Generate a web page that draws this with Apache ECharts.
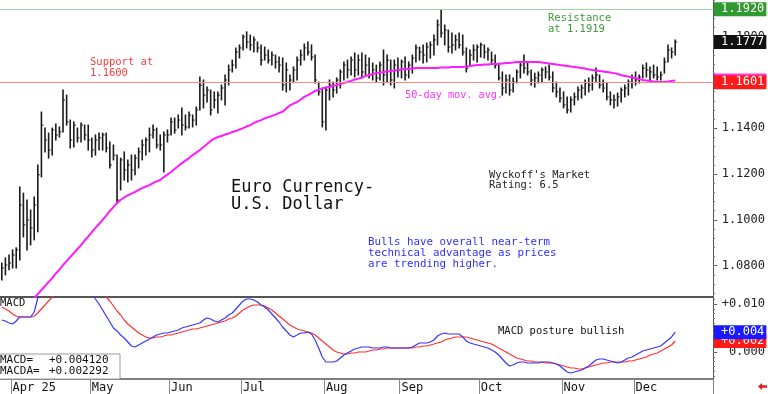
<!DOCTYPE html>
<html><head><meta charset="utf-8">
<script src="https://cdn.jsdelivr.net/npm/echarts@6/dist/echarts.min.js"></script>
<style>html,body{margin:0;padding:0;background:#fff}#c{width:768px;height:394px}</style>
</head><body><div id="c"></div>
<script>
// ---- Daily bars (Euro FX) ----
const high = [
1.0812,1.0834,1.0847,1.0869,1.0878,1.1144,1.1117,1.1087,1.1043,1.1100,
1.1240,1.1471,1.1401,1.1379,1.1401,1.1419,1.1406,1.1567,1.1545,1.1436,
1.1428,1.1401,1.1423,1.1414,1.1414,1.1358,1.1371,1.1379,1.1379,1.1379,
1.1340,1.1327,1.1283,1.1270,1.1297,1.1262,1.1283,1.1283,1.1314,1.1349,
1.1358,1.1401,1.1414,1.1401,1.1371,1.1384,1.1393,1.1445,1.1445,1.1458,
1.1489,1.1458,1.1471,1.1458,1.1493,1.1624,1.1611,1.1580,1.1567,1.1559,
1.1559,1.1589,1.1633,1.1676,1.1698,1.1751,1.1764,1.1807,1.1821,1.1807,
1.1799,1.1777,1.1764,1.1755,1.1742,1.1733,1.1720,1.1711,1.1707,1.1685,
1.1633,1.1668,1.1711,1.1742,1.1768,1.1777,1.1764,1.1720,1.1602,1.1576,
1.1580,1.1611,1.1602,1.1620,1.1655,1.1690,1.1698,1.1711,1.1729,1.1720,
1.1729,1.1720,1.1707,1.1685,1.1676,1.1690,1.1742,1.1720,1.1698,1.1698,
1.1707,1.1698,1.1711,1.1690,1.1720,1.1764,1.1755,1.1764,1.1772,1.1777,
1.1807,1.1873,1.1917,1.1851,1.1829,1.1816,1.1807,1.1816,1.1807,1.1751,
1.1742,1.1764,1.1764,1.1772,1.1764,1.1751,1.1733,1.1720,1.1685,1.1646,
1.1633,1.1633,1.1620,1.1655,1.1690,1.1720,1.1690,1.1655,1.1641,1.1646,
1.1663,1.1668,1.1676,1.1646,1.1602,1.1576,1.1559,1.1537,1.1537,1.1554,
1.1580,1.1589,1.1611,1.1620,1.1633,1.1663,1.1633,1.1611,1.1598,1.1559,
1.1545,1.1554,1.1576,1.1589,1.1611,1.1633,1.1646,1.1633,1.1676,1.1685,
1.1668,1.1676,1.1668,1.1646,1.1707,1.1764,1.1751,1.1786];
const low = [
1.0738,1.0760,1.0782,1.0790,1.0790,1.0825,1.0926,1.0869,1.0891,1.0913,
1.0948,1.1188,1.1297,1.1270,1.1283,1.1349,1.1362,1.1384,1.1414,1.1314,
1.1318,1.1340,1.1340,1.1349,1.1305,1.1275,1.1283,1.1305,1.1305,1.1297,
1.1227,1.1262,1.1074,1.1131,1.1174,1.1166,1.1174,1.1197,1.1227,1.1262,
1.1283,1.1297,1.1358,1.1314,1.1305,1.1209,1.1340,1.1371,1.1379,1.1401,
1.1371,1.1393,1.1401,1.1406,1.1414,1.1480,1.1489,1.1515,1.1458,1.1489,
1.1467,1.1524,1.1502,1.1589,1.1646,1.1663,1.1707,1.1742,1.1751,1.1742,
1.1733,1.1733,1.1676,1.1698,1.1685,1.1676,1.1663,1.1646,1.1567,1.1559,
1.1567,1.1602,1.1611,1.1676,1.1698,1.1720,1.1698,1.1598,1.1545,1.1406,
1.1393,1.1524,1.1537,1.1554,1.1576,1.1611,1.1620,1.1633,1.1624,1.1633,
1.1620,1.1633,1.1620,1.1611,1.1602,1.1611,1.1589,1.1602,1.1589,1.1576,
1.1624,1.1620,1.1611,1.1620,1.1641,1.1690,1.1698,1.1685,1.1690,1.1707,
1.1720,1.1764,1.1799,1.1764,1.1733,1.1729,1.1742,1.1751,1.1720,1.1646,
1.1676,1.1698,1.1690,1.1711,1.1707,1.1698,1.1685,1.1663,1.1611,1.1545,
1.1554,1.1545,1.1559,1.1598,1.1620,1.1641,1.1633,1.1589,1.1580,1.1598,
1.1602,1.1620,1.1611,1.1559,1.1537,1.1515,1.1489,1.1467,1.1471,1.1502,
1.1524,1.1532,1.1545,1.1559,1.1567,1.1602,1.1576,1.1559,1.1524,1.1502,
1.1489,1.1497,1.1515,1.1537,1.1545,1.1576,1.1589,1.1598,1.1620,1.1624,
1.1611,1.1620,1.1611,1.1611,1.1641,1.1690,1.1707,1.1720];
const close = [
1.0790,1.0803,1.0812,1.0847,1.0869,1.1065,1.0978,1.1000,1.0965,1.1065,
1.1197,1.1414,1.1349,1.1305,1.1393,1.1371,1.1384,1.1524,1.1428,1.1349,
1.1414,1.1358,1.1414,1.1371,1.1349,1.1305,1.1349,1.1358,1.1371,1.1314,
1.1240,1.1283,1.1087,1.1262,1.1218,1.1240,1.1218,1.1270,1.1297,1.1327,
1.1349,1.1371,1.1393,1.1327,1.1327,1.1371,1.1371,1.1428,1.1393,1.1436,
1.1414,1.1406,1.1458,1.1436,1.1480,1.1589,1.1545,1.1567,1.1480,1.1524,
1.1545,1.1576,1.1611,1.1655,1.1676,1.1733,1.1751,1.1799,1.1777,1.1764,
1.1786,1.1751,1.1698,1.1720,1.1698,1.1720,1.1690,1.1676,1.1589,1.1655,
1.1611,1.1655,1.1698,1.1720,1.1751,1.1733,1.1711,1.1611,1.1559,1.1428,
1.1567,1.1589,1.1567,1.1611,1.1646,1.1676,1.1655,1.1698,1.1655,1.1698,
1.1646,1.1676,1.1633,1.1655,1.1620,1.1676,1.1633,1.1698,1.1611,1.1676,
1.1655,1.1690,1.1633,1.1676,1.1707,1.1751,1.1733,1.1720,1.1755,1.1764,
1.1786,1.1851,1.1816,1.1829,1.1755,1.1764,1.1786,1.1764,1.1733,1.1663,
1.1720,1.1742,1.1755,1.1764,1.1733,1.1742,1.1698,1.1676,1.1620,1.1576,
1.1611,1.1567,1.1602,1.1646,1.1676,1.1663,1.1646,1.1611,1.1620,1.1633,
1.1655,1.1646,1.1624,1.1576,1.1559,1.1532,1.1502,1.1480,1.1524,1.1537,
1.1567,1.1576,1.1598,1.1589,1.1620,1.1633,1.1589,1.1576,1.1537,1.1524,
1.1524,1.1537,1.1567,1.1576,1.1602,1.1620,1.1611,1.1624,1.1663,1.1655,
1.1646,1.1633,1.1624,1.1633,1.1690,1.1742,1.1733,1.1777];
// ---- 50-day moving average ----
const ma50 = [
1.0495,1.0515,1.0532,1.0550,1.0567,1.0585,1.0602,1.0622,1.0641,1.0659,
1.0676,1.0694,1.0711,1.0729,1.0746,1.0766,1.0783,1.0803,1.0820,1.0838,
1.0855,1.0873,1.0890,1.0910,1.0927,1.0947,1.0965,1.0982,1.1000,1.1019,
1.1039,1.1056,1.1074,1.1087,1.1098,1.1107,1.1115,1.1122,1.1131,1.1139,
1.1146,1.1152,1.1161,1.1168,1.1174,1.1187,1.1198,1.1209,1.1222,1.1235,
1.1248,1.1259,1.1270,1.1283,1.1294,1.1305,1.1318,1.1331,1.1345,1.1355,
1.1362,1.1366,1.1373,1.1377,1.1384,1.1388,1.1395,1.1401,1.1408,1.1414,
1.1423,1.1430,1.1436,1.1443,1.1449,1.1454,1.1460,1.1467,1.1473,1.1486,
1.1500,1.1508,1.1515,1.1526,1.1537,1.1545,1.1554,1.1563,1.1569,1.1574,
1.1578,1.1580,1.1585,1.1589,1.1593,1.1598,1.1602,1.1607,1.1613,1.1617,
1.1622,1.1628,1.1633,1.1637,1.1641,1.1644,1.1646,1.1648,1.1650,1.1652,
1.1655,1.1657,1.1659,1.1659,1.1661,1.1663,1.1663,1.1663,1.1663,1.1663,
1.1663,1.1663,1.1666,1.1666,1.1666,1.1668,1.1668,1.1668,1.1668,1.1670,
1.1672,1.1674,1.1676,1.1676,1.1679,1.1679,1.1681,1.1681,1.1681,1.1683,
1.1685,1.1685,1.1687,1.1690,1.1690,1.1690,1.1690,1.1690,1.1690,1.1690,
1.1687,1.1685,1.1683,1.1681,1.1679,1.1676,1.1674,1.1672,1.1670,1.1668,
1.1666,1.1663,1.1661,1.1657,1.1655,1.1652,1.1650,1.1648,1.1646,1.1644,
1.1641,1.1637,1.1633,1.1628,1.1626,1.1622,1.1620,1.1615,1.1611,1.1609,
1.1607,1.1604,1.1602,1.1602,1.1602,1.1604,1.1607,1.1609];
// ---- MACD and its average ----
const macd = [
0.00667,0.00646,0.00604,0.00583,0.00646,0.00729,0.00729,0.00729,0.00729,0.00833,
0.01125,0.0135,0.0150,0.0160,0.0168,0.0172,0.0176,0.0182,0.0180,0.0175,
0.0170,0.0162,0.0152,0.0142,0.0133,0.0122,0.01104,0.01000,0.00875,0.00750,
0.00625,0.00500,0.00438,0.00354,0.00292,0.00208,0.00125,0.00104,0.00146,0.00188,
0.00229,0.00271,0.00313,0.00354,0.00375,0.00396,0.00396,0.00417,0.00438,0.00458,
0.00500,0.00521,0.00542,0.00563,0.00583,0.00604,0.00667,0.00708,0.00688,0.00646,
0.00625,0.00667,0.00708,0.00771,0.00813,0.00896,0.00979,0.01063,0.01104,0.01104,
0.01083,0.01042,0.00979,0.00938,0.00875,0.00792,0.00708,0.00625,0.00521,0.00438,
0.00354,0.00313,0.00354,0.00396,0.00396,0.00417,0.00375,0.00250,0.00083,-0.00104,
-0.00208,-0.00208,-0.00208,-0.00188,-0.00125,-0.00063,-0.00021,0.00021,0.00063,0.00083,
0.00104,0.00104,0.00104,0.00083,0.00083,0.00083,0.00104,0.00104,0.00083,0.00083,
0.00083,0.00083,0.00083,0.00083,0.00104,0.00146,0.00188,0.00188,0.00188,0.00208,
0.00250,0.00333,0.00375,0.00396,0.00375,0.00375,0.00375,0.00375,0.00313,0.00229,
0.00188,0.00167,0.00146,0.00125,0.00104,0.00083,0.00042,0.00000,-0.00063,-0.00146,
-0.00229,-0.00292,-0.00271,-0.00229,-0.00208,-0.00208,-0.00229,-0.00229,-0.00229,-0.00229,
-0.00208,-0.00208,-0.00208,-0.00229,-0.00250,-0.00292,-0.00354,-0.00417,-0.00438,-0.00417,
-0.00396,-0.00375,-0.00333,-0.00292,-0.00229,-0.00167,-0.00146,-0.00146,-0.00167,-0.00188,
-0.00208,-0.00229,-0.00208,-0.00167,-0.00125,-0.00104,-0.00063,-0.00021,0.00021,0.00042,
0.00063,0.00083,0.00104,0.00125,0.00188,0.00250,0.00313,0.00412];
const macdAvg = [
0.00938,0.00896,0.00854,0.00792,0.00750,0.00729,0.00729,0.00729,0.00729,0.00750,
0.00813,0.00896,0.00979,0.01063,0.01146,0.0120,0.0128,0.0135,0.0142,0.0148,
0.0153,0.0156,0.0158,0.0158,0.0156,0.0152,0.0146,0.0138,0.0128,0.01146,
0.01063,0.00958,0.00854,0.00771,0.00667,0.00583,0.00521,0.00458,0.00396,0.00354,
0.00313,0.00292,0.00292,0.00313,0.00313,0.00333,0.00354,0.00354,0.00375,0.00396,
0.00417,0.00438,0.00458,0.00479,0.00479,0.00500,0.00521,0.00542,0.00563,0.00583,
0.00604,0.00625,0.00646,0.00688,0.00708,0.00750,0.00813,0.00875,0.00917,0.00958,
0.00979,0.00979,0.00979,0.00958,0.00917,0.00875,0.00813,0.00750,0.00688,0.00625,
0.00563,0.00521,0.00479,0.00458,0.00438,0.00417,0.00396,0.00354,0.00292,0.00229,
0.00167,0.00104,0.00042,0.00000,-0.00021,-0.00042,-0.00042,-0.00021,-0.00021,0.00000,
0.00000,0.00000,0.00021,0.00042,0.00042,0.00063,0.00063,0.00083,0.00083,0.00083,
0.00083,0.00083,0.00083,0.00083,0.00083,0.00104,0.00104,0.00125,0.00125,0.00146,
0.00167,0.00188,0.00208,0.00250,0.00271,0.00292,0.00313,0.00313,0.00313,0.00313,
0.00292,0.00271,0.00250,0.00229,0.00208,0.00188,0.00167,0.00125,0.00083,0.00042,
0.00000,-0.00042,-0.00083,-0.00125,-0.00146,-0.00167,-0.00188,-0.00188,-0.00208,-0.00208,
-0.00208,-0.00229,-0.00229,-0.00229,-0.00250,-0.00271,-0.00292,-0.00313,-0.00333,-0.00333,
-0.00354,-0.00354,-0.00333,-0.00313,-0.00292,-0.00271,-0.00250,-0.00229,-0.00229,-0.00208,
-0.00208,-0.00208,-0.00208,-0.00208,-0.00188,-0.00188,-0.00167,-0.00146,-0.00125,-0.00104,
-0.00063,-0.00042,-0.00021,0.00021,0.00063,0.00104,0.00146,0.002292];
// ---- Axis tick labels / reference levels ----
const priceTicks = [1.08, 1.10, 1.12, 1.14, 1.16, 1.18];
const macdTicks = [0, 0.010];
const monthNames = {'04':'Apr 25','05':'May','06':'Jun','07':'Jul','08':'Aug','09':'Sep','10':'Oct','11':'Nov','12':'Dec'};
const resistance = 1.1920, support = 1.1601, lastClose = 1.1777, lastMa = 1.1609;
const lastMacd = 0.004120, lastMacdAvg = 0.002292;
const priceMin = 1.06633, priceMax = 1.19603;
const macdMin = -0.005625, macdMax = 0.011458;
const holidays = ['2025-06-19'];
const totalSlots = 198;

// trading-day categories
const dates = [];
{ const d = new Date(Date.UTC(2025, 2, 27));
  while (dates.length < totalSlots) {
    const wd = d.getUTCDay(); const s = d.toISOString().slice(0, 10);
    if (wd !== 0 && wd !== 6 && holidays.indexOf(s) < 0) dates.push(s);
    d.setUTCDate(d.getUTCDate() + 1);
  } }
const monthStart = new Set();
for (let i = 1; i < dates.length; i++) if (dates[i].slice(5, 7) !== dates[i - 1].slice(5, 7)) monthStart.add(i);
const minorPrice = []; for (let v = 1.068; v < priceMax; v += 0.004) minorPrice.push(+v.toFixed(4));
const minorMacd = []; for (let v = -0.005; v < macdMax; v += 0.001) minorMacd.push(+v.toFixed(4));

const bars = high.map((h, i) => [i, h, low[i], close[i]]);
const FONT = '"DejaVu Sans Mono", monospace';

function boxLabel(bg, txt, fg) {
  return { show: true, position: 'end', distance: 1, formatter: txt, color: fg || '#fff',
    backgroundColor: bg, fontFamily: FONT, fontSize: 12, lineHeight: 13, padding: [1, 2, 0, 7] };
}
const clear = { color: 'rgba(0,0,0,0)', width: 0 };

const chart = echarts.init(document.getElementById('c'), null, { renderer: 'canvas' });
chart.setOption({
  animation: false,
  backgroundColor: '#ffffff',
  grid: [
    { left: 0, right: 54, top: 0, height: 297 },
    { left: 0, right: 54, top: 297, height: 82 }
  ],
  xAxis: [
    { type: 'category', gridIndex: 0, data: dates, boundaryGap: true,
      axisLine: { show: true, onZero: false, lineStyle: { color: '#555', width: 2 } },
      axisTick: { show: false }, axisLabel: { show: false }, splitLine: { show: false } },
    { type: 'category', gridIndex: 1, data: dates, boundaryGap: true,
      axisLine: { show: true, onZero: false, lineStyle: { color: '#555', width: 1.5 } },
      axisTick: { show: true, interval: (i) => monthStart.has(i), length: 15, lineStyle: { color: '#888' } },
      axisLabel: { show: true, interval: (i) => monthStart.has(i), formatter: (v) => monthNames[v.slice(5, 7)] || '',
        align: 'left', margin: 3, fontFamily: FONT, fontSize: 12, color: '#111' },
      splitLine: { show: false } }
  ],
  yAxis: [
    { type: 'value', gridIndex: 0, position: 'right', min: priceMin, max: priceMax,
      axisLine: { show: true, lineStyle: { color: '#555' } },
      axisTick: { show: true, customValues: priceTicks, length: 4, lineStyle: { color: '#555' } },
      axisLabel: { customValues: priceTicks, formatter: (v) => v.toFixed(4), align: 'right', margin: 52,
        fontFamily: FONT, fontSize: 12, color: '#222' }, splitLine: { show: false } },
    { type: 'value', gridIndex: 0, position: 'right', min: priceMin, max: priceMax,
      axisLine: { show: false }, axisTick: { show: true, customValues: minorPrice, length: 2, lineStyle: { color: '#777' } },
      axisLabel: { show: false }, splitLine: { show: false } },
    { type: 'value', gridIndex: 1, position: 'right', min: macdMin, max: macdMax,
      axisLine: { show: true, lineStyle: { color: '#555' } },
      axisTick: { show: true, customValues: macdTicks, length: 4, lineStyle: { color: '#555' } },
      axisLabel: { customValues: macdTicks, formatter: (v) => (v > 0 ? '+' : '') + v.toFixed(3), align: 'right', margin: 52,
        fontFamily: FONT, fontSize: 12, color: '#222' }, splitLine: { show: false } },
    { type: 'value', gridIndex: 1, position: 'right', min: macdMin, max: macdMax,
      axisLine: { show: false }, axisTick: { show: true, customValues: minorMacd, length: 2, lineStyle: { color: '#777' } },
      axisLabel: { show: false }, splitLine: { show: false } }
  ],
  series: [
    { type: 'custom', name: 'Euro FX', xAxisIndex: 0, yAxisIndex: 0, clip: true, z: 3,
      encode: { x: 0, y: [1, 2, 3] }, data: bars,
      renderItem: function (params, api) {
        const i = api.value(0);
        const h = api.coord([i, api.value(1)]);
        const l = api.coord([i, api.value(2)]);
        const c = api.coord([i, api.value(3)]);
        return { type: 'group', children: [
          { type: 'line', shape: { x1: h[0], y1: h[1] - 0.5, x2: l[0], y2: l[1] + 0.5 }, style: { stroke: '#1a1a1a', lineWidth: 1.6 } },
          { type: 'line', shape: { x1: c[0], y1: c[1], x2: c[0] + 2, y2: c[1] }, style: { stroke: '#1a1a1a', lineWidth: 1 } }
        ] };
      } },
    { type: 'line', name: '50-day', xAxisIndex: 0, yAxisIndex: 0, data: ma50, symbol: 'none', clip: true, z: 4,
      lineStyle: { color: '#ff1aff', width: 2 }, silent: true },
    { type: 'line', name: 'levels', xAxisIndex: 0, yAxisIndex: 0, data: [], clip: false, z: 5,
      markLine: { symbol: 'none', silent: true, animation: false, precision: 6, data: [
        { yAxis: lastMa, lineStyle: clear, label: boxLabel('#ff33ff', lastMa.toFixed(4)) },
        { yAxis: support, lineStyle: { color: '#f28a8a', width: 1, type: 'solid' }, label: boxLabel('#ff1a1a', support.toFixed(4)) },
        { yAxis: resistance, lineStyle: { color: '#9bd59b', width: 1.2, type: 'solid' }, label: boxLabel('#2f9a2f', resistance.toFixed(4)) },
        { yAxis: lastClose, lineStyle: clear, label: boxLabel('#111111', lastClose.toFixed(4)) }
      ] } },
    { type: 'line', name: 'MACDA', xAxisIndex: 1, yAxisIndex: 2, data: macdAvg, symbol: 'none', clip: true,
      lineStyle: { color: '#ff3030', width: 1.2 }, silent: true },
    { type: 'line', name: 'MACD', xAxisIndex: 1, yAxisIndex: 2, data: macd, symbol: 'none', clip: true,
      lineStyle: { color: '#3535ff', width: 1.2 }, silent: true },
    { type: 'line', name: 'macdLevels', xAxisIndex: 1, yAxisIndex: 2, data: [], clip: false, z: 5,
      markLine: { symbol: 'none', silent: true, animation: false, precision: 6, data: [
        { yAxis: lastMacdAvg, lineStyle: clear, label: boxLabel('#ff1a1a', '+' + lastMacdAvg.toFixed(3)) },
        { yAxis: lastMacd, lineStyle: clear, label: boxLabel('#1a1aff', '+' + lastMacd.toFixed(3)) }
      ] } }
  ],
  graphic: [
    { type: 'text', left: 90, top: 57, style: { text: 'Support at\n1.1600', fill: '#ff3b3b', font: '10.5px ' + FONT, lineHeight: 11 } },
    { type: 'text', left: 548, top: 13, style: { text: 'Resistance\nat 1.1919', fill: '#3c9a3c', font: '10.5px ' + FONT, lineHeight: 11 } },
    { type: 'text', left: 405, top: 90, style: { text: '50-day mov. avg.', fill: '#ff33ff', font: '10.2px ' + FONT } },
    { type: 'text', left: 231, top: 179, style: { text: 'Euro Currency-\nU.S. Dollar', fill: '#111', font: '17px ' + FONT, lineHeight: 17 } },
    { type: 'text', left: 489, top: 170, style: { text: "Wyckoff's Market\nRating: 6.5", fill: '#222', font: '10.5px ' + FONT, lineHeight: 10 } },
    { type: 'text', left: 368, top: 237, style: { text: 'Bulls have overall near-term\ntechnical advantage as prices\nare trending higher.', fill: '#3030ff', font: '10.8px ' + FONT, lineHeight: 10.7 } },
    { type: 'text', left: 0, top: 298, style: { text: 'MACD', fill: '#111', font: '10.5px ' + FONT } },
    { type: 'text', left: 498, top: 326, style: { text: 'MACD posture bullish', fill: '#111', font: '10.5px ' + FONT } },
    { type: 'rect', shape: { x: -1, y: 354, width: 121, height: 25 }, style: { fill: '#fff', stroke: '#9a9a9a', lineWidth: 1 }, z: 10 },
    { type: 'text', left: 0, top: 355, z: 11, style: { text: 'MACD=\nMACDA=', fill: '#111', font: '11px ' + FONT, lineHeight: 11 } },
    { type: 'text', left: 49, top: 355, z: 11, style: { text: '+' + lastMacd.toFixed(6) + '\n+' + lastMacdAvg.toFixed(6), fill: '#111', font: '11px ' + FONT, lineHeight: 11 } },
    { type: 'polygon', shape: { points: [[758, 386.5], [762, 383], [762, 385.3], [767, 385.3], [767, 387.7], [762, 387.7], [762, 390]] }, style: { fill: '#e51c1c' } }
  ]
});
</script></body></html>
